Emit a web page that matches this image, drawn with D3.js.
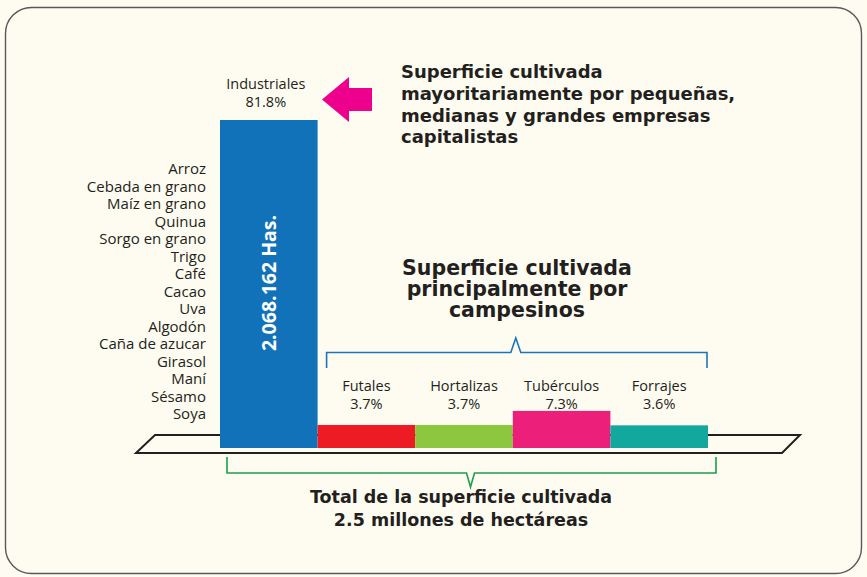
<!DOCTYPE html>
<html>
<head>
<meta charset="utf-8">
<script src="https://cdn.jsdelivr.net/npm/d3@7"></script>
<style>
  html, body { margin: 0; padding: 0; background: #fefcf0; }
  svg { display: block; font-family: "Open Sans", sans-serif; }
</style>
</head>
<body>
<div id="divChart"></div>
<script>
// categories and shares (%) of cultivated surface
const categories = ['Industriales', 'Futales', 'Hortalizas', 'Tubérculos', 'Forrajes'];
const shares = [81.8, 3.7, 3.7, 7.3, 3.6];
const shareLabels = ['81.8%', '3.7%', '3.7%', '7.3%', '3.6%'];
const barColors = ['#1172ba', '#ed1c24', '#8dc63f', '#ec1f7a', '#12a89d'];

// crops grouped under "Industriales"
const industrialCrops = ['Arroz', 'Cebada en grano', 'Maíz en grano', 'Quinua', 'Sorgo en grano',
  'Trigo', 'Café', 'Cacao', 'Uva', 'Algodón', 'Caña de azucar', 'Girasol', 'Maní', 'Sésamo', 'Soya'];

const bigBarText = '2.068.162 Has.';
const topNote = ['Superficie cultivada', 'mayoritariamente por pequeñas,', 'medianas y grandes empresas', 'capitalistas'];
const midNote = ['Superficie cultivada', 'principalmente por', 'campesinos'];
const totalNote = ['Total de la superficie cultivada', '2.5 millones de hectáreas'];

const width = 867, height = 577;
const base = 448;

const svg = d3.select('#divChart')
  .append('svg')
  .attr('width', width)
  .attr('height', height);

// frame
svg.append('rect')
  .attr('x', 5.5).attr('y', 7.5)
  .attr('width', 856).attr('height', 566)
  .attr('rx', 26).attr('ry', 26)
  .attr('fill', '#fefcf0')
  .attr('stroke', '#58585a')
  .attr('stroke-width', 1.4);

const xScale = d3.scaleBand().domain(categories).range([220, 708]).padding(0);
const yScale = d3.scaleLinear().domain([-2.2, 81.8]).range([base, 120]);

// platform
svg.append('path')
  .attr('d', 'M155,435 L800,435 L782,453 L136,453 Z')
  .attr('fill', 'none')
  .attr('stroke', '#231f20')
  .attr('stroke-width', 2);

// bars
svg.selectAll('rect.bar').data(categories)
  .enter()
  .append('rect')
  .attr('class', 'bar')
  .attr('x', d => xScale(d))
  .attr('y', (d, i) => yScale(shares[i]))
  .attr('width', xScale.bandwidth())
  .attr('height', (d, i) => base - yScale(shares[i]))
  .attr('fill', (d, i) => barColors[i]);

// labels above bars
const labelY = i => i === 0 ? yScale(shares[0]) - 31 : 391;
categories.forEach((c, i) => {
  const cx = xScale(c) + xScale.bandwidth() / 2 - (i === 0 ? 3 : 0);
  const t = svg.append('text')
    .attr('text-anchor', 'middle')
    .attr('fill', '#231f20')
    .style('font-size', '14.5px');
  t.append('tspan').attr('x', cx).attr('y', labelY(i)).text(c);
  t.append('tspan').attr('x', cx).attr('y', labelY(i) + 17.5).text(shareLabels[i]);
});

// big bar text
const bx = xScale('Industriales') + xScale.bandwidth() / 2 + 7;
svg.append('text')
  .attr('transform', `translate(${bx}, 283) rotate(-90)`)
  .attr('text-anchor', 'middle')
  .attr('fill', '#ffffff')
  .style('font-size', '19.5px')
  .style('font-weight', 'bold')
  .text(bigBarText);

// crop list
svg.selectAll('text.crop').data(industrialCrops)
  .enter()
  .append('text')
  .attr('class', 'crop')
  .attr('x', 206)
  .attr('y', (d, i) => 174 + i * 17.5)
  .attr('text-anchor', 'end')
  .attr('fill', '#231f20')
  .style('font-size', '15px')
  .text(d => d);

// arrow
svg.append('path')
  .attr('d', 'M322,99.5 L349,77 L349,88 L372,88 L372,111 L349,111 L349,122 Z')
  .attr('fill', '#ec008c');

// notes
const note = (lines, x, y0, step, size, anchor) => {
  const t = svg.append('text')
    .attr('text-anchor', anchor)
    .attr('fill', '#231f20')
    .style('font-family', '"DejaVu Sans", sans-serif')
    .style('font-size', size + 'px')
    .style('font-weight', 'bold');
  lines.forEach((l, i) => t.append('tspan').attr('x', x).attr('y', y0 + i * step).text(l));
};
note(topNote, 401, 78, 21.8, 18, 'start');
note(midNote, 517, 275, 21, 20.5, 'middle');
note(totalNote, 461, 503, 23, 17.5, 'middle');

// blue bracket over peasant crops
const bL = xScale('Futales') + 9;
const bR = xScale('Forrajes') + xScale.bandwidth() - 1;
const bM = (bL + bR) / 2 - 1;
svg.append('path')
  .attr('d', `M${bL},368 V352.5 H${bM - 5} L${bM},338 L${bM + 5},352.5 H${bR} V368`)
  .attr('fill', 'none')
  .attr('stroke', '#1c75bc')
  .attr('stroke-width', 1.6);

// green bracket under all
const gL = xScale('Industriales') + 7;
const gR = xScale('Forrajes') + xScale.bandwidth() + 8;
const gM = (gL + gR) / 2 - 1;
svg.append('path')
  .attr('d', `M${gL},457 V473 H${gM - 4} L${gM},487 L${gM + 4},473 H${gR} V457`)
  .attr('fill', 'none')
  .attr('stroke', '#1e9f4b')
  .attr('stroke-width', 1.6);
</script>
</body>
</html>
